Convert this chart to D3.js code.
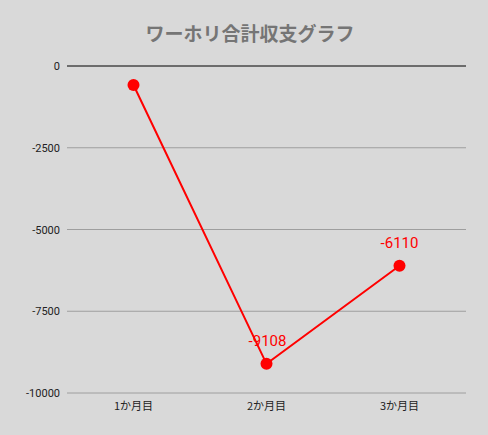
<!DOCTYPE html><html><head><meta charset="utf-8"><script src="https://cdn.jsdelivr.net/npm/d3@7"></script>
<style>body{margin:0;background:#d9d9d9}</style></head><body><svg id="c" width="488" height="435"></svg>
<script>
const categories=["1か月目","2か月目","3か月目"];
const values=[-580,-9108,-6110];
const labels=[null,"-9108","-6110"];
const ticks=[0,-2500,-5000,-7500,-10000];
const svg=d3.select("#c");
svg.append("rect").attr("width",488).attr("height",435).attr("fill","#d9d9d9");
const x=d3.scalePoint().domain(categories).range([67,466]).padding(0.5);
const y=d3.scaleLinear().domain([-10000,0]).range([393,66]);
svg.append("text").attr("x",250).attr("y",41).attr("text-anchor","middle").attr("font-family","Noto Sans CJK JP").attr("font-weight","bold").attr("font-size",19).attr("fill","#757575").text("ワーホリ合計収支グラフ");
ticks.forEach(t=>{
 svg.append("line").attr("x1",67).attr("x2",466).attr("y1",y(t)).attr("y2",y(t)).attr("stroke",t===0?"#000":"#9e9e9e").attr("stroke-width",1);
 svg.append("text").attr("x",60).attr("y",y(t)+4).attr("text-anchor","end").attr("font-family","Roboto").attr("font-size",11).attr("fill","#222").text(t);
});
categories.forEach(c=>svg.append("text").attr("x",x(c)).attr("y",410).attr("text-anchor","middle").attr("font-family","Noto Sans CJK JP").attr("font-size",11).attr("fill","#222").text(c));
const line=d3.line().x((d,i)=>x(categories[i])).y(d=>y(d));
svg.append("path").attr("d",line(values)).attr("fill","none").attr("stroke","red").attr("stroke-width",2);
values.forEach((v,i)=>{
 svg.append("circle").attr("cx",x(categories[i])).attr("cy",y(v)).attr("r",6).attr("fill","red");
 if(labels[i])svg.append("text").attr("x",x(categories[i])-(i===1?-1:0)).attr("y",y(v)-18).attr("text-anchor","middle").attr("font-family","Roboto").attr("font-size",15).attr("fill","red").text(labels[i]);
});
</script></body></html>
